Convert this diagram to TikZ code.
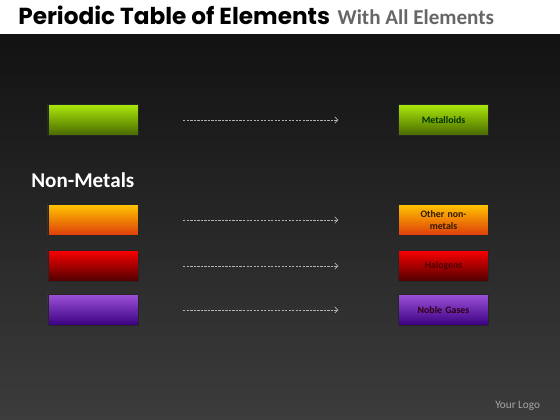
\documentclass[tikz,border=0pt]{standalone}
\usepackage{fontspec}
\setmainfont{Carlito}
\newfontfamily\titlefont{Poppins}
\usetikzlibrary{arrows.meta, positioning}
\definecolor{bgtop}{RGB}{18, 18, 18}
\definecolor{bgbottom}{RGB}{60, 60, 60}
\definecolor{greentop}{RGB}{170, 232, 10}
\definecolor{greenbot}{RGB}{72, 104, 0}
\definecolor{orangetop}{RGB}{255, 196, 0}
\definecolor{orangebot}{RGB}{222, 60, 10}
\definecolor{redtop}{RGB}{250, 0, 0}
\definecolor{redbot}{RGB}{78, 0, 0}
\definecolor{purpletop}{RGB}{156, 80, 216}
\definecolor{purplebot}{RGB}{56, 0, 128}

\begin{document}
\begin{tikzpicture}[
    x=0.025cm, y=-0.025cm,
    node distance=6.5cm,
    swatch/.style={rectangle, draw=black!85, line width=0.3pt, minimum width=2.25cm, minimum height=0.77cm, inner sep=1pt},
    group/.style={swatch, font=\fontsize{7}{8}\selectfont\bfseries, text width=1.6cm, align=center},
    arrow/.style={-{Straight Barb[length=2.2pt, width=4.5pt]}, dash pattern=on 1.6pt off 0.9pt, gray!60, line width=0.45pt, shorten <=1.125cm, shorten >=1.5cm}
]
\useasboundingbox (0,0) rectangle (560,420);

% Background
\shade[top color=bgtop, bottom color=bgbottom] (0,34) rectangle (560,420);
\fill[white] (0,0) rectangle (560,34);

% Title
\node[anchor=base west, inner sep=0pt, font=\titlefont\bfseries\fontsize{16.5}{18}\selectfont] (title) at (18,25) {Periodic Table of Elements};
\node[inner sep=0pt, right=5pt of title.base east, anchor=base west, font=\bfseries\fontsize{15}{17}\selectfont, text=black!60] (subtitle) {With All Elements};

% Colour keys
\node[swatch, top color=greentop, bottom color=greenbot] (k1) at (93,120) {};
\node[swatch, top color=orangetop, bottom color=orangebot] (k2) at (93,220) {};
\node[swatch, top color=redtop, bottom color=redbot] (k3) at (93,266) {};
\node[swatch, top color=purpletop, bottom color=purplebot] (k4) at (93,310) {};

\node[anchor=west, inner sep=0pt, text=white, font=\bfseries\fontsize{15}{17}\selectfont] (nonmetals) at (31,180) {Non-Metals};

% Element groups
\node[group, right=of k1, top color=greentop, bottom color=greenbot, text=black!80!green] (g1) {Metalloids};
\node[group, right=of k2, top color=orangetop, bottom color=orangebot, text=black!80!orange] (g2) {Other non-\\metals};
\node[group, right=of k3, top color=redtop, bottom color=redbot, text=red!30!black] (g3) {Halogens};
\node[group, right=of k4, top color=purpletop, bottom color=purplebot, text=black!75!purple] (g4) {Noble Gases};

% Arrows
\draw[arrow] (k1) -- (g1);
\draw[arrow] (k2) -- (g2);
\draw[arrow] (k3) -- (g3);
\draw[arrow] (k4) -- (g4);

% Logo
\node[anchor=east, text=gray!70!white, font=\fontsize{8}{9}\selectfont] (logo) at (545,406) {Your Logo};

\end{tikzpicture}
\end{document}
